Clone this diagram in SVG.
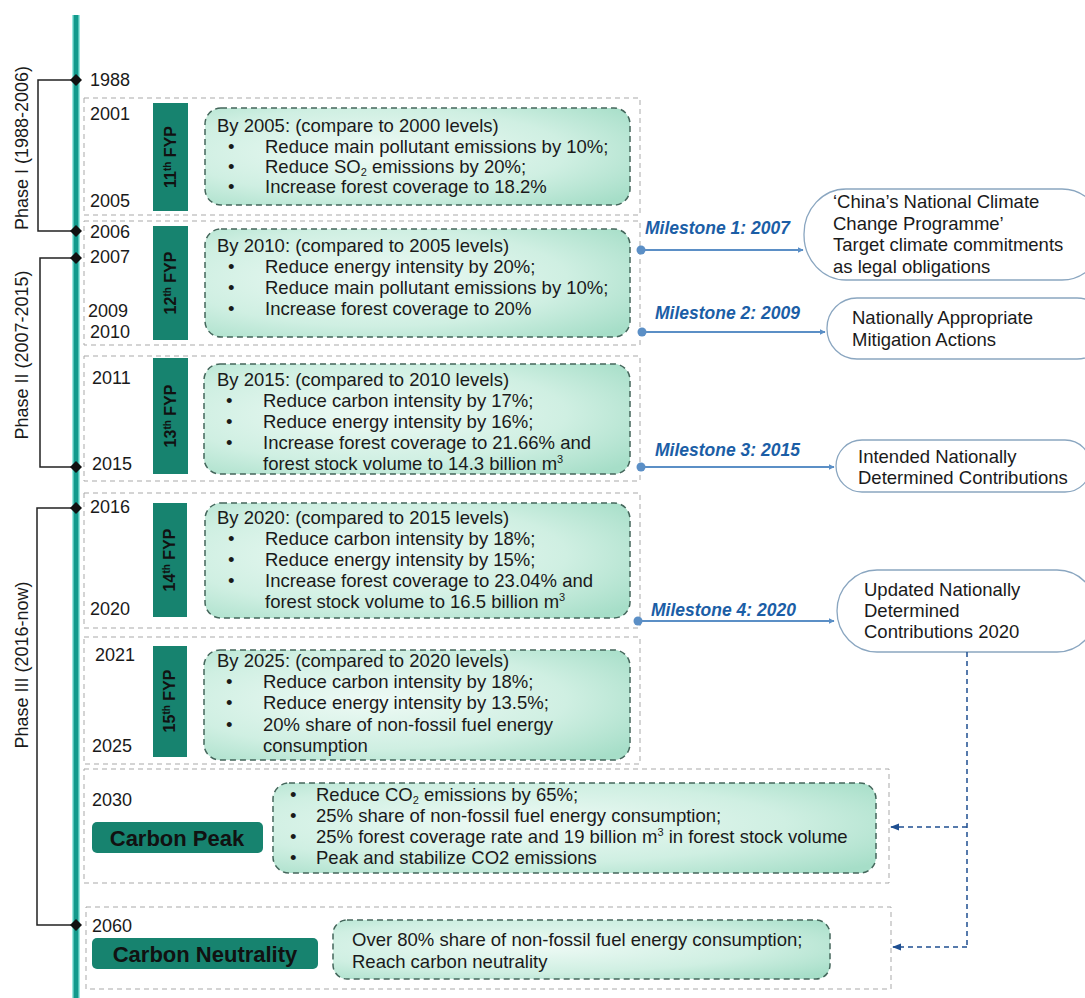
<svg xmlns="http://www.w3.org/2000/svg" width="1085" height="998" viewBox="0 0 1085 998">
<defs>
<radialGradient id="mint" cx="0.4" cy="0.45" r="0.75">
<stop offset="0" stop-color="#eefaf5"/>
<stop offset="0.6" stop-color="#cfefe2"/>
<stop offset="1" stop-color="#a6dec8"/>
</radialGradient>
<marker id="arrBlue" viewBox="0 0 10 10" refX="9" refY="5" markerWidth="6" markerHeight="6" orient="auto" markerUnits="userSpaceOnUse">
<path d="M0,0 L10,5 L0,10 z" fill="#5b8fc6"/>
</marker>
<marker id="arrDark" viewBox="0 0 10 10" refX="9" refY="5" markerWidth="9" markerHeight="9" orient="auto" markerUnits="userSpaceOnUse">
<path d="M0,1 L10,5 L0,9 z" fill="#1f4f91"/>
</marker>
</defs>
<style>
text{font-family:"Liberation Sans",Arial,sans-serif;fill:#1a1a1a}
.yr{font-size:18px}
.body{font-size:18.5px}
.phase{font-size:18px}
.fyp{font-size:16px;font-weight:bold;fill:#111}
.outer{fill:none;stroke:#a9a9a9;stroke-width:1;stroke-dasharray:5 4}
.green{fill:url(#mint);stroke:#44665b;stroke-width:1.5;stroke-dasharray:6 4}
.bar{fill:#17836f}
.ms{font-size:17.5px;font-weight:bold;font-style:italic;fill:#1b5ea6}
.node{fill:#fff;stroke:#8aa6c0;stroke-width:1.3}
.big{font-size:22px;font-weight:bold;fill:#111}
.brk{fill:none;stroke:#222;stroke-width:1.5}
.arr{stroke:#5b8fc6;stroke-width:2;fill:none}
.dsh{stroke:#1f4f91;stroke-width:1.5;fill:none;stroke-dasharray:5 4}
.sub{font-size:11px}
</style>
<rect width="1085" height="998" fill="#fff"/>

<g id="timeline">
<line x1="76" y1="15" x2="76" y2="998" stroke="#9be8e0" stroke-width="8"/>
<line x1="76" y1="15" x2="76" y2="998" stroke="#129a8c" stroke-width="5"/>
</g>

<g id="phases">
<path class="brk" d="M76,80 H38 V231 H76"/>
<path class="brk" d="M76,258 H40 V467 H76"/>
<path class="brk" d="M76,508 H37 V925 H76"/>
<g fill="#111">
<path d="M76,74 L82,80 L76,86 L70,80 z"/>
<path d="M76,225 L82,231 L76,237 L70,231 z"/>
<path d="M76,252 L82,258 L76,264 L70,258 z"/>
<path d="M76,461 L82,467 L76,473 L70,467 z"/>
<path d="M76,502 L82,508 L76,514 L70,508 z"/>
<path d="M76,919 L82,925 L76,931 L70,925 z"/>
</g>
<text class="phase" transform="translate(28,148) rotate(-90)" text-anchor="middle">Phase I (1988-2006)</text>
<text class="phase" transform="translate(28,355) rotate(-90)" text-anchor="middle">Phase II (2007-2015)</text>
<text class="phase" transform="translate(28,665) rotate(-90)" text-anchor="middle">Phase III (2016-now)</text>
</g>

<g id="years">
<text class="yr" x="90" y="86">1988</text>
<text class="yr" x="90" y="120">2001</text>
<text class="yr" x="90" y="207">2005</text>
<text class="yr" x="90" y="238">2006</text>
<text class="yr" x="90" y="263">2007</text>
<text class="yr" x="88" y="317">2009</text>
<text class="yr" x="90" y="338">2010</text>
<text class="yr" x="92" y="384">2011</text>
<text class="yr" x="92" y="470">2015</text>
<text class="yr" x="90" y="513">2016</text>
<text class="yr" x="90" y="615">2020</text>
<text class="yr" x="95" y="661">2021</text>
<text class="yr" x="92" y="752">2025</text>
<text class="yr" x="92" y="806">2030</text>
<text class="yr" x="92" y="932">2060</text>
</g>

<g id="fyp11">
<rect class="outer" x="84" y="98" width="556" height="117"/>
<rect class="bar" x="153" y="103" width="35" height="108"/>
<text class="fyp" transform="translate(176,157) rotate(-90)" text-anchor="middle">11<tspan dy="-5" font-size="10">th</tspan><tspan dy="5"> FYP</tspan></text>
<rect class="green" x="205" y="108" width="425" height="97" rx="16"/>
<text class="body" x="217" y="132">By 2005: (compare to 2000 levels)</text>
<text class="body" x="228" y="153">•</text><text class="body" x="265" y="153">Reduce main pollutant emissions by 10%;</text>
<text class="body" x="228" y="173">•</text><text class="body" x="265" y="173">Reduce SO<tspan class="sub" dy="3">2</tspan><tspan dy="-3"> emissions by 20%;</tspan></text>
<text class="body" x="228" y="193">•</text><text class="body" x="265" y="193">Increase forest coverage to  18.2%</text>
</g>

<g id="fyp12">
<rect class="outer" x="84" y="221" width="556" height="124"/>
<rect class="bar" x="153" y="226" width="35" height="114"/>
<text class="fyp" transform="translate(176,283) rotate(-90)" text-anchor="middle">12<tspan dy="-5" font-size="10">th</tspan><tspan dy="5"> FYP</tspan></text>
<rect class="green" x="205" y="229" width="425" height="108" rx="16"/>
<text class="body" x="217" y="252">By 2010: (compared to 2005 levels)</text>
<text class="body" x="228" y="273">•</text><text class="body" x="265" y="273">Reduce energy intensity by 20%;</text>
<text class="body" x="228" y="294">•</text><text class="body" x="265" y="294">Reduce main pollutant emissions by 10%;</text>
<text class="body" x="228" y="315">•</text><text class="body" x="265" y="315">Increase forest coverage to  20%</text>
</g>

<g id="fyp13">
<rect class="outer" x="84" y="356" width="556" height="125"/>
<rect class="bar" x="153" y="358" width="35" height="116"/>
<text class="fyp" transform="translate(176,416) rotate(-90)" text-anchor="middle">13<tspan dy="-5" font-size="10">th</tspan><tspan dy="5"> FYP</tspan></text>
<rect class="green" x="204" y="364" width="426" height="110" rx="16"/>
<text class="body" x="217" y="386">By 2015: (compared to 2010 levels)</text>
<text class="body" x="226" y="407">•</text><text class="body" x="263" y="407">Reduce carbon intensity by  17%;</text>
<text class="body" x="226" y="428">•</text><text class="body" x="263" y="428">Reduce energy intensity by  16%;</text>
<text class="body" x="226" y="449">•</text><text class="body" x="263" y="449">Increase forest coverage to  21.66% and</text>
<text class="body" x="263" y="470">forest stock volume to  14.3 billion m<tspan class="sub" dy="-7">3</tspan></text>
</g>

<g id="fyp14">
<rect class="outer" x="84" y="493" width="556" height="135"/>
<rect class="bar" x="153" y="503" width="34" height="114"/>
<text class="fyp" transform="translate(175,560) rotate(-90)" text-anchor="middle">14<tspan dy="-5" font-size="10">th</tspan><tspan dy="5"> FYP</tspan></text>
<rect class="green" x="205" y="503" width="425" height="115" rx="16"/>
<text class="body" x="217" y="524">By 2020: (compared to 2015 levels)</text>
<text class="body" x="228" y="545">•</text><text class="body" x="265" y="545">Reduce carbon intensity by  18%;</text>
<text class="body" x="228" y="566">•</text><text class="body" x="265" y="566">Reduce energy intensity by  15%;</text>
<text class="body" x="228" y="587">•</text><text class="body" x="265" y="587">Increase forest coverage to  23.04% and</text>
<text class="body" x="265" y="608">forest stock volume to  16.5 billion m<tspan class="sub" dy="-7">3</tspan></text>
</g>

<g id="fyp15">
<rect class="outer" x="84" y="637" width="556" height="127"/>
<rect class="bar" x="153" y="646" width="34" height="111"/>
<text class="fyp" transform="translate(175,701) rotate(-90)" text-anchor="middle">15<tspan dy="-5" font-size="10">th</tspan><tspan dy="5"> FYP</tspan></text>
<rect class="green" x="204" y="650" width="426" height="110" rx="16"/>
<text class="body" x="217" y="667">By 2025: (compared to 2020 levels)</text>
<text class="body" x="226" y="688">•</text><text class="body" x="263" y="688">Reduce carbon intensity by  18%;</text>
<text class="body" x="226" y="709">•</text><text class="body" x="263" y="709">Reduce energy intensity by  13.5%;</text>
<text class="body" x="226" y="731">•</text><text class="body" x="263" y="731">20% share of non-fossil fuel energy</text>
<text class="body" x="263" y="752">consumption</text>
</g>

<g id="carbon-peak">
<rect class="outer" x="84" y="769" width="805" height="114"/>
<rect class="bar" x="92" y="822" width="171" height="31" rx="5"/>
<text class="big" x="177" y="846" text-anchor="middle">Carbon Peak</text>
<rect class="green" x="273" y="783" width="603" height="90" rx="16"/>
<text class="body" x="290" y="801">•</text><text class="body" x="316" y="801">Reduce CO<tspan class="sub" dy="3">2</tspan><tspan dy="-3"> emissions by 65%;</tspan></text>
<text class="body" x="290" y="822">•</text><text class="body" x="316" y="822">25% share of non-fossil fuel energy consumption;</text>
<text class="body" x="290" y="843">•</text><text class="body" x="316" y="843">25% forest coverage rate and 19 billion m<tspan class="sub" dy="-7">3</tspan><tspan dy="7"> in forest stock volume</tspan></text>
<text class="body" x="290" y="864">•</text><text class="body" x="316" y="864">Peak and stabilize CO2 emissions</text>
</g>

<g id="carbon-neutrality">
<rect class="outer" x="86" y="907" width="805" height="82"/>
<rect class="bar" x="92" y="938" width="226" height="31" rx="5"/>
<text class="big" x="205" y="962" text-anchor="middle">Carbon Neutrality</text>
<rect class="green" x="333" y="920" width="497" height="59" rx="14"/>
<text class="body" x="352" y="946">Over 80% share of non-fossil fuel energy consumption;</text>
<text class="body" x="352" y="968">Reach carbon neutrality</text>
</g>

<g id="milestone1">
<rect class="node" x="804" y="189" width="300" height="91" rx="42" ry="45"/>
<text class="body" x="833" y="208">‘China’s National Climate</text>
<text class="body" x="833" y="230">Change Programme’</text>
<text class="body" x="833" y="251">Target climate commitments</text>
<text class="body" x="833" y="273">as legal obligations</text>
</g>
<g id="milestone2">
<rect class="node" x="827" y="298" width="280" height="61" rx="30" ry="30"/>
<text class="body" x="852" y="324">Nationally Appropriate</text>
<text class="body" x="852" y="346">Mitigation Actions</text>
</g>
<g id="milestone3">
<rect class="node" x="836" y="440" width="255" height="52" rx="26" ry="26"/>
<text class="body" x="858" y="463">Intended Nationally</text>
<text class="body" x="858" y="484">Determined Contributions</text>
</g>
<g id="milestone4">
<rect class="node" x="837" y="570" width="260" height="82" rx="40" ry="41"/>
<text class="body" x="864" y="596">Updated Nationally</text>
<text class="body" x="864" y="617">Determined</text>
<text class="body" x="864" y="638">Contributions 2020</text>
</g>

<g id="connectors">
<circle cx="641" cy="250" r="4.5" fill="#5b8fc6"/>
<line class="arr" x1="641" y1="250" x2="803" y2="250" marker-end="url(#arrBlue)"/>
<text class="ms" x="645" y="234">Milestone 1: 2007</text>
<circle cx="642" cy="332" r="4.5" fill="#5b8fc6"/>
<line class="arr" x1="642" y1="332" x2="825" y2="332" marker-end="url(#arrBlue)"/>
<text class="ms" x="655" y="319">Milestone 2: 2009</text>
<circle cx="641" cy="467" r="4.5" fill="#5b8fc6"/>
<line class="arr" x1="641" y1="467" x2="834" y2="467" marker-end="url(#arrBlue)"/>
<text class="ms" x="655" y="456">Milestone 3: 2015</text>
<circle cx="638" cy="621" r="4.5" fill="#5b8fc6"/>
<line class="arr" x1="638" y1="621" x2="834" y2="621" marker-end="url(#arrBlue)"/>
<text class="ms" x="651" y="616">Milestone 4: 2020</text>
<path class="dsh" d="M967,652 V947"/>
<path class="dsh" d="M967,827 H891" marker-end="url(#arrDark)"/>
<path class="dsh" d="M967,947 H893" marker-end="url(#arrDark)"/>
</g>
</svg>
